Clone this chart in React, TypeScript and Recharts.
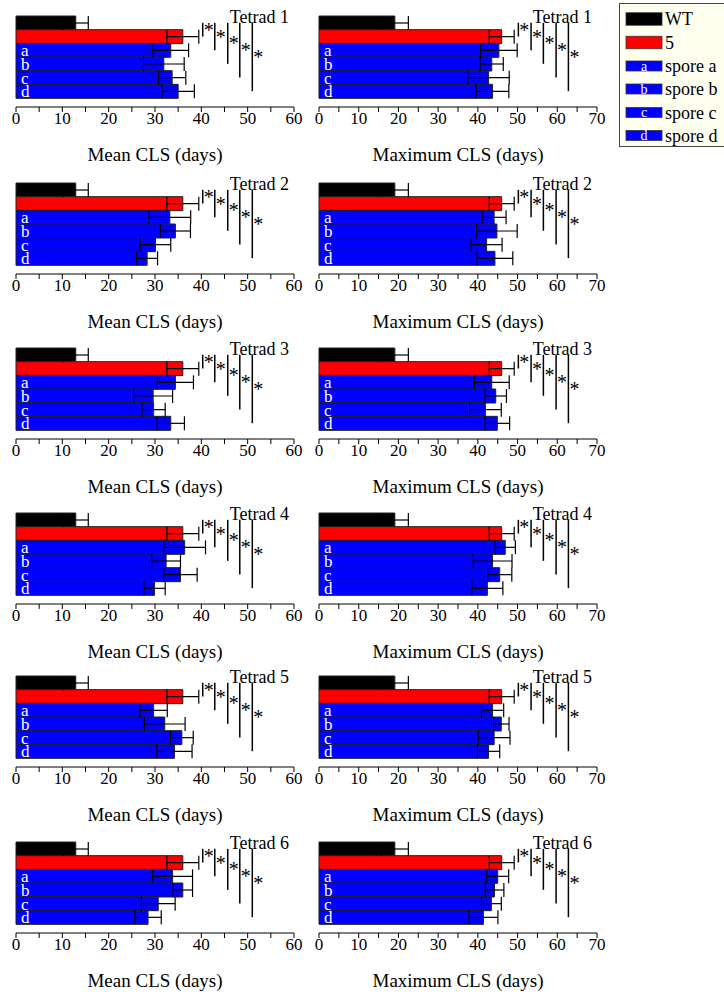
import React from 'react';
import { BarChart, Bar, XAxis, YAxis, ErrorBar, Cell, LabelList, ReferenceLine } from 'recharts';

const serif = "'Liberation Serif', 'DejaVu Serif', serif";

const strains = ['WT', '5', 'a', 'b', 'c', 'd'];
const tags = ['', '', 'a', 'b', 'c', 'd'];
const legendNames = ['WT', '5', 'spore a', 'spore b', 'spore c', 'spore d'];
const colors = ['#000000', '#FF0000', '#0000FF', '#0000FF', '#0000FF', '#0000FF'];

const tetrads = ['Tetrad 1', 'Tetrad 2', 'Tetrad 3', 'Tetrad 4', 'Tetrad 5', 'Tetrad 6'];

// mean CLS (days) per tetrad, order WT, 5, a, b, c, d
const meanValues = [
  [12.9, 36.0, 33.4, 31.9, 33.7, 35.0],
  [12.9, 36.0, 33.2, 34.4, 30.1, 28.3],
  [12.9, 36.0, 34.4, 29.6, 29.7, 33.4],
  [12.9, 36.0, 36.4, 32.4, 35.5, 29.9],
  [12.9, 36.0, 29.7, 32.1, 35.8, 34.2],
  [12.9, 36.0, 33.8, 36.0, 30.7, 28.5],
];
const meanErrors = [
  [2.7, 3.45, 3.85, 4.4, 2.95, 3.5],
  [2.7, 3.45, 4.5, 3.25, 3.3, 2.25],
  [2.7, 3.45, 3.9, 4.2, 2.5, 2.95],
  [2.7, 3.45, 4.5, 3.1, 3.6, 2.3],
  [2.7, 3.45, 2.95, 4.4, 2.45, 3.8],
  [2.7, 3.45, 4.3, 2.1, 3.65, 2.85],
];

// maximum CLS (days)
const maxValues = [
  [19.1, 46.0, 45.3, 43.5, 42.7, 43.7],
  [19.1, 46.0, 44.1, 44.8, 42.2, 44.3],
  [19.1, 46.0, 43.5, 44.5, 41.9, 44.9],
  [19.1, 46.0, 46.9, 43.7, 45.5, 42.4],
  [19.1, 46.0, 43.7, 45.9, 44.1, 42.7],
  [19.1, 46.0, 45.0, 44.2, 43.4, 41.4],
];
const maxErrors = [
  [3.4, 3.15, 4.6, 2.9, 5.2, 4.1],
  [3.4, 3.15, 3.0, 5.1, 3.9, 4.5],
  [3.4, 3.15, 4.4, 2.7, 4.0, 3.1],
  [3.4, 3.15, 2.55, 4.9, 3.05, 3.9],
  [3.4, 3.15, 2.8, 1.95, 4.0, 2.8],
  [3.4, 3.15, 2.75, 2.35, 2.5, 3.65],
];

const meanTicks = [0, 5, 10, 15, 20, 25, 30, 35, 40, 45, 50, 55, 60];
const maxTicks = [0, 5, 10, 15, 20, 25, 30, 35, 40, 45, 50, 55, 60, 65, 70];

// significance lines (x position), each from WT to the target strain
const meanBracketX = [40.3, 42.9, 45.7, 48.3, 51.0];
const maxBracketX = [50.2, 53.4, 56.5, 59.7, 62.8];
const bracketTargets = ['5', 'a', 'b', 'c', 'd'];

const panelTops = [0, 167, 332, 497, 660, 826];

type PanelProps = {
  tetrad: string;
  values: number[];
  errors: number[];
  domainMax: number;
  ticks: number[];
  brackets: number[];
  axisTitle: string;
  left: number;
  top: number;
};

const Panel = ({ tetrad, values, errors, domainMax, ticks, brackets, axisTitle, left, top }: PanelProps) => {
  const data = strains.map((s, i) => ({ name: s, value: values[i], err: errors[i], tag: tags[i] }));
  return (
    <div style={{ position: 'absolute', left, top, width: 310, height: 165 }}>
      <BarChart
        layout="vertical"
        width={310}
        height={165}
        data={data}
        margin={{ top: 5, right: 16, bottom: 0, left: 16 }}
        barCategoryGap={0}
      >
        <XAxis
          type="number"
          domain={[0, domainMax]}
          ticks={ticks}
          interval={0}
          tickFormatter={(v: number) => (v % 10 === 0 ? String(v) : '')}
          tickSize={5}
          tickMargin={0}
          height={58}
          axisLine={{ stroke: '#000' }}
          tickLine={{ stroke: '#000' }}
          tick={{ fill: '#000', fontSize: 17, fontFamily: serif }}
          label={{ value: axisTitle, position: 'insideBottom', offset: 4, fill: '#000', fontSize: 19, fontFamily: serif }}
        />
        <XAxis
          xAxisId="top"
          orientation="top"
          type="number"
          domain={[0, domainMax]}
          height={0}
          tick={false}
          tickLine={false}
          axisLine={{ stroke: '#000' }}
        />
        <YAxis
          type="category"
          dataKey="name"
          width={0}
          tick={false}
          tickLine={false}
          axisLine={{ stroke: '#000' }}
          padding={{ top: 11, bottom: 9 }}
        />
        <YAxis
          yAxisId="r"
          orientation="right"
          type="category"
          dataKey="name"
          width={0}
          tick={false}
          tickLine={false}
          axisLine={{ stroke: '#000' }}
        />
        <Bar dataKey="value" isAnimationActive={false} stroke="#222" strokeWidth={1}>
          {data.map((d, i) => (
            <Cell key={d.name} fill={colors[i]} />
          ))}
          <ErrorBar dataKey="err" direction="x" width={7} stroke="#000" strokeWidth={1.2} />
          <LabelList dataKey="tag" position="insideLeft" offset={5} fill="#fff" fontSize={17} fontFamily={serif} />
        </Bar>
        {brackets.map((x, i) => (
          <ReferenceLine
            key={i}
            segment={[{ x, y: 'WT' }, { x, y: bracketTargets[i] }]}
            stroke="#000"
            strokeWidth={1.5}
            label={{ value: '*', position: 'right', offset: 1, fill: '#000', fontSize: 20, fontFamily: serif }}
          />
        ))}
      </BarChart>
      <svg style={{ position: 'absolute', left: 0, top: 0, pointerEvents: 'none' }} width={310} height={40}>
        <text x={289} y={23} textAnchor="end" fill="#000" fontSize={18} style={{ fontFamily: serif }}>
          {tetrad}
        </text>
      </svg>
    </div>
  );
};

const legendRowY = [19, 42.5, 66, 89, 112.5, 135.5];

const LegendBox = () => (
  <svg style={{ position: 'absolute', left: 619, top: 3 }} width={105} height={145}>
    <rect x={0.5} y={0.5} width={120} height={143} fill="#FFFFF0" stroke="#444" />
    {legendNames.map((name, i) => {
      const cy = legendRowY[i] - 3;
      const h = i < 2 ? 12.5 : 10;
      return (
        <g key={name}>
          <rect x={7} y={cy - h / 2} width={36} height={h} fill={colors[i]} stroke="#333" strokeWidth={0.8} />
          {tags[i] && (
            <text x={25} y={cy + 4.5} textAnchor="middle" fill="#fff" fontSize={14} style={{ fontFamily: serif }}>
              {tags[i]}
            </text>
          )}
          <text x={46} y={legendRowY[i] + 3} fill="#000" fontSize={18} style={{ fontFamily: serif }}>
            {name}
          </text>
        </g>
      );
    })}
  </svg>
);

export default function App() {
  return (
    <div
      style={{
        position: 'absolute',
        left: 0,
        top: 0,
        width: 724,
        height: 992,
        background: '#fff',
        overflow: 'hidden',
        fontFamily: serif,
      }}
    >
      {tetrads.map((t, i) => (
        <React.Fragment key={t}>
          <Panel
            tetrad={t}
            values={meanValues[i]}
            errors={meanErrors[i]}
            domainMax={60}
            ticks={meanTicks}
            brackets={meanBracketX}
            axisTitle="Mean CLS (days)"
            left={0}
            top={panelTops[i]}
          />
          <Panel
            tetrad={t}
            values={maxValues[i]}
            errors={maxErrors[i]}
            domainMax={70}
            ticks={maxTicks}
            brackets={maxBracketX}
            axisTitle="Maximum CLS (days)"
            left={303}
            top={panelTops[i]}
          />
        </React.Fragment>
      ))}
      <LegendBox />
    </div>
  );
}
